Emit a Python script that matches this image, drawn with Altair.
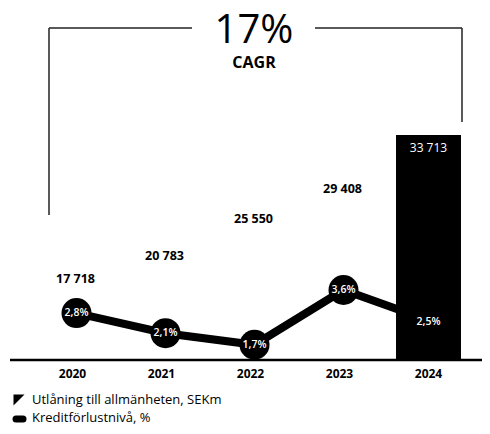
import altair as alt
import pandas as pd

years = ["2020", "2021", "2022", "2023", "2024"]
lending = [17718, 20783, 25550, 29408, 33713]
lending_labels = ["17 718", "20 783", "25 550", "29 408", "33 713"]
loss_rate = [2.8, 2.1, 1.7, 3.6, 2.5]
loss_labels = ["2,8%", "2,1%", "1,7%", "3,6%", "2,5%"]
highlight = [False, False, False, False, True]
cagr_value = "17%"
cagr_label = "CAGR"
legend_labels = ["Utlåning till allmänheten, SEKm", "Kreditförlustnivå, %"]

FONT = "Open Sans"

df = pd.DataFrame({
    "year": years,
    "lending": lending,
    "lending_label": lending_labels,
    "loss": loss_rate,
    "loss_label": loss_labels,
    "highlight": highlight,
})

base = alt.Chart(df)

x = alt.X(
    "year:N", sort=years,
    scale=alt.Scale(paddingInner=0.27, paddingOuter=0.135),
    axis=alt.Axis(title=None, domain=False, ticks=False, grid=False,
                  labelPadding=8, labelFontSize=12, labelFontWeight="bold",
                  labelColor="black", labelFont=FONT, labelAngle=0),
)
y_bar = alt.Y("lending:Q", scale=alt.Scale(domain=[4500, 50200], zero=False, nice=False), axis=None)
y_line = alt.Y("loss:Q", scale=alt.Scale(domain=[1.17, 13.39], zero=False, nice=False), axis=None)

line = base.mark_line(color="black", strokeWidth=8, xOffset=4).encode(x=x, y=y_line)
dots = base.mark_point(shape="circle", filled=True, color="black", size=900, opacity=1, xOffset=4).encode(x=x, y=y_line)

bars = base.transform_filter(alt.datum.highlight).mark_bar(color="black", clip=True).encode(x=x, y=y_bar)

pct_dark = base.transform_filter(~alt.datum.highlight).mark_text(
    color="white", font=FONT, fontSize=10.5, fontWeight=600, xOffset=4).encode(
    x=x, y=y_line, text="loss_label:N")
pct_light = base.transform_filter(alt.datum.highlight).mark_text(
    color="white", font=FONT, fontSize=10.5, fontWeight=600).encode(
    x=x, y=y_line, text="loss_label:N")

val_dark = base.transform_filter(~alt.datum.highlight).mark_text(
    color="black", font=FONT, fontSize=12.5, fontWeight="bold", dy=21, dx=3).encode(
    x=x, y=y_bar, text="lending_label:N")
val_light = base.transform_filter(alt.datum.highlight).mark_text(
    color="white", font=FONT, fontSize=12, dy=13).encode(
    x=x, y=y_bar, text="lending_label:N")

one = alt.Chart(pd.DataFrame({"k": [0]}))

axis_line = one.mark_rule(color="black", strokeWidth=2.5).encode(
    x=alt.value(-18), x2=alt.value(460), y=alt.value(352))

br_color = "#222222"
br_w = 1.5
bracket = alt.layer(
    one.mark_rule(color=br_color, strokeWidth=br_w).encode(x=alt.value(21), x2=alt.value(164), y=alt.value(20)),
    one.mark_rule(color=br_color, strokeWidth=br_w).encode(x=alt.value(287), x2=alt.value(434), y=alt.value(20)),
    one.mark_rule(color=br_color, strokeWidth=br_w).encode(x=alt.value(21), y=alt.value(20), y2=alt.value(207)),
    one.mark_rule(color=br_color, strokeWidth=br_w).encode(x=alt.value(434), y=alt.value(20), y2=alt.value(114)),
)

cagr_big = one.mark_text(font=FONT, fontSize=40, color="black", baseline="alphabetic", align="center").encode(
    x=alt.value(226), y=alt.value(35), text=alt.value(cagr_value))
cagr_small = one.mark_text(font=FONT, fontSize=16, fontWeight="bold", color="black", baseline="alphabetic", align="center").encode(
    x=alt.value(226), y=alt.value(60), text=alt.value(cagr_label))

leg_tri = one.mark_point(shape="M -1 -1 L 1 -1 L -1 1 Z", filled=True, color="black", size=121, opacity=1).encode(
    x=alt.value(-9), y=alt.value(392))
leg_pill = one.mark_rule(color="black", strokeWidth=7, strokeCap="round").encode(
    x=alt.value(-12), x2=alt.value(-5), y=alt.value(411))
leg_t1 = one.mark_text(font=FONT, fontSize=13, color="black", align="left", baseline="middle").encode(
    x=alt.value(4), y=alt.value(392), text=alt.value(legend_labels[0]))
leg_t2 = one.mark_text(font=FONT, fontSize=13, color="black", align="left", baseline="middle").encode(
    x=alt.value(4), y=alt.value(410), text=alt.value(legend_labels[1]))

chart = alt.layer(
    line, dots, bars, pct_dark, pct_light, val_dark, val_light, axis_line, bracket,
    cagr_big, cagr_small, leg_tri, leg_pill, leg_t1, leg_t2,
).resolve_scale(y="independent").properties(
    width=445, height=352,
    autosize=alt.AutoSizeParams(type="none"),
    padding={"left": 20, "top": 0, "right": 9, "bottom": 66},
    background="white",
).configure_view(stroke=None)

chart.save("out.html", embed_options={"renderer": "svg", "actions": False})
